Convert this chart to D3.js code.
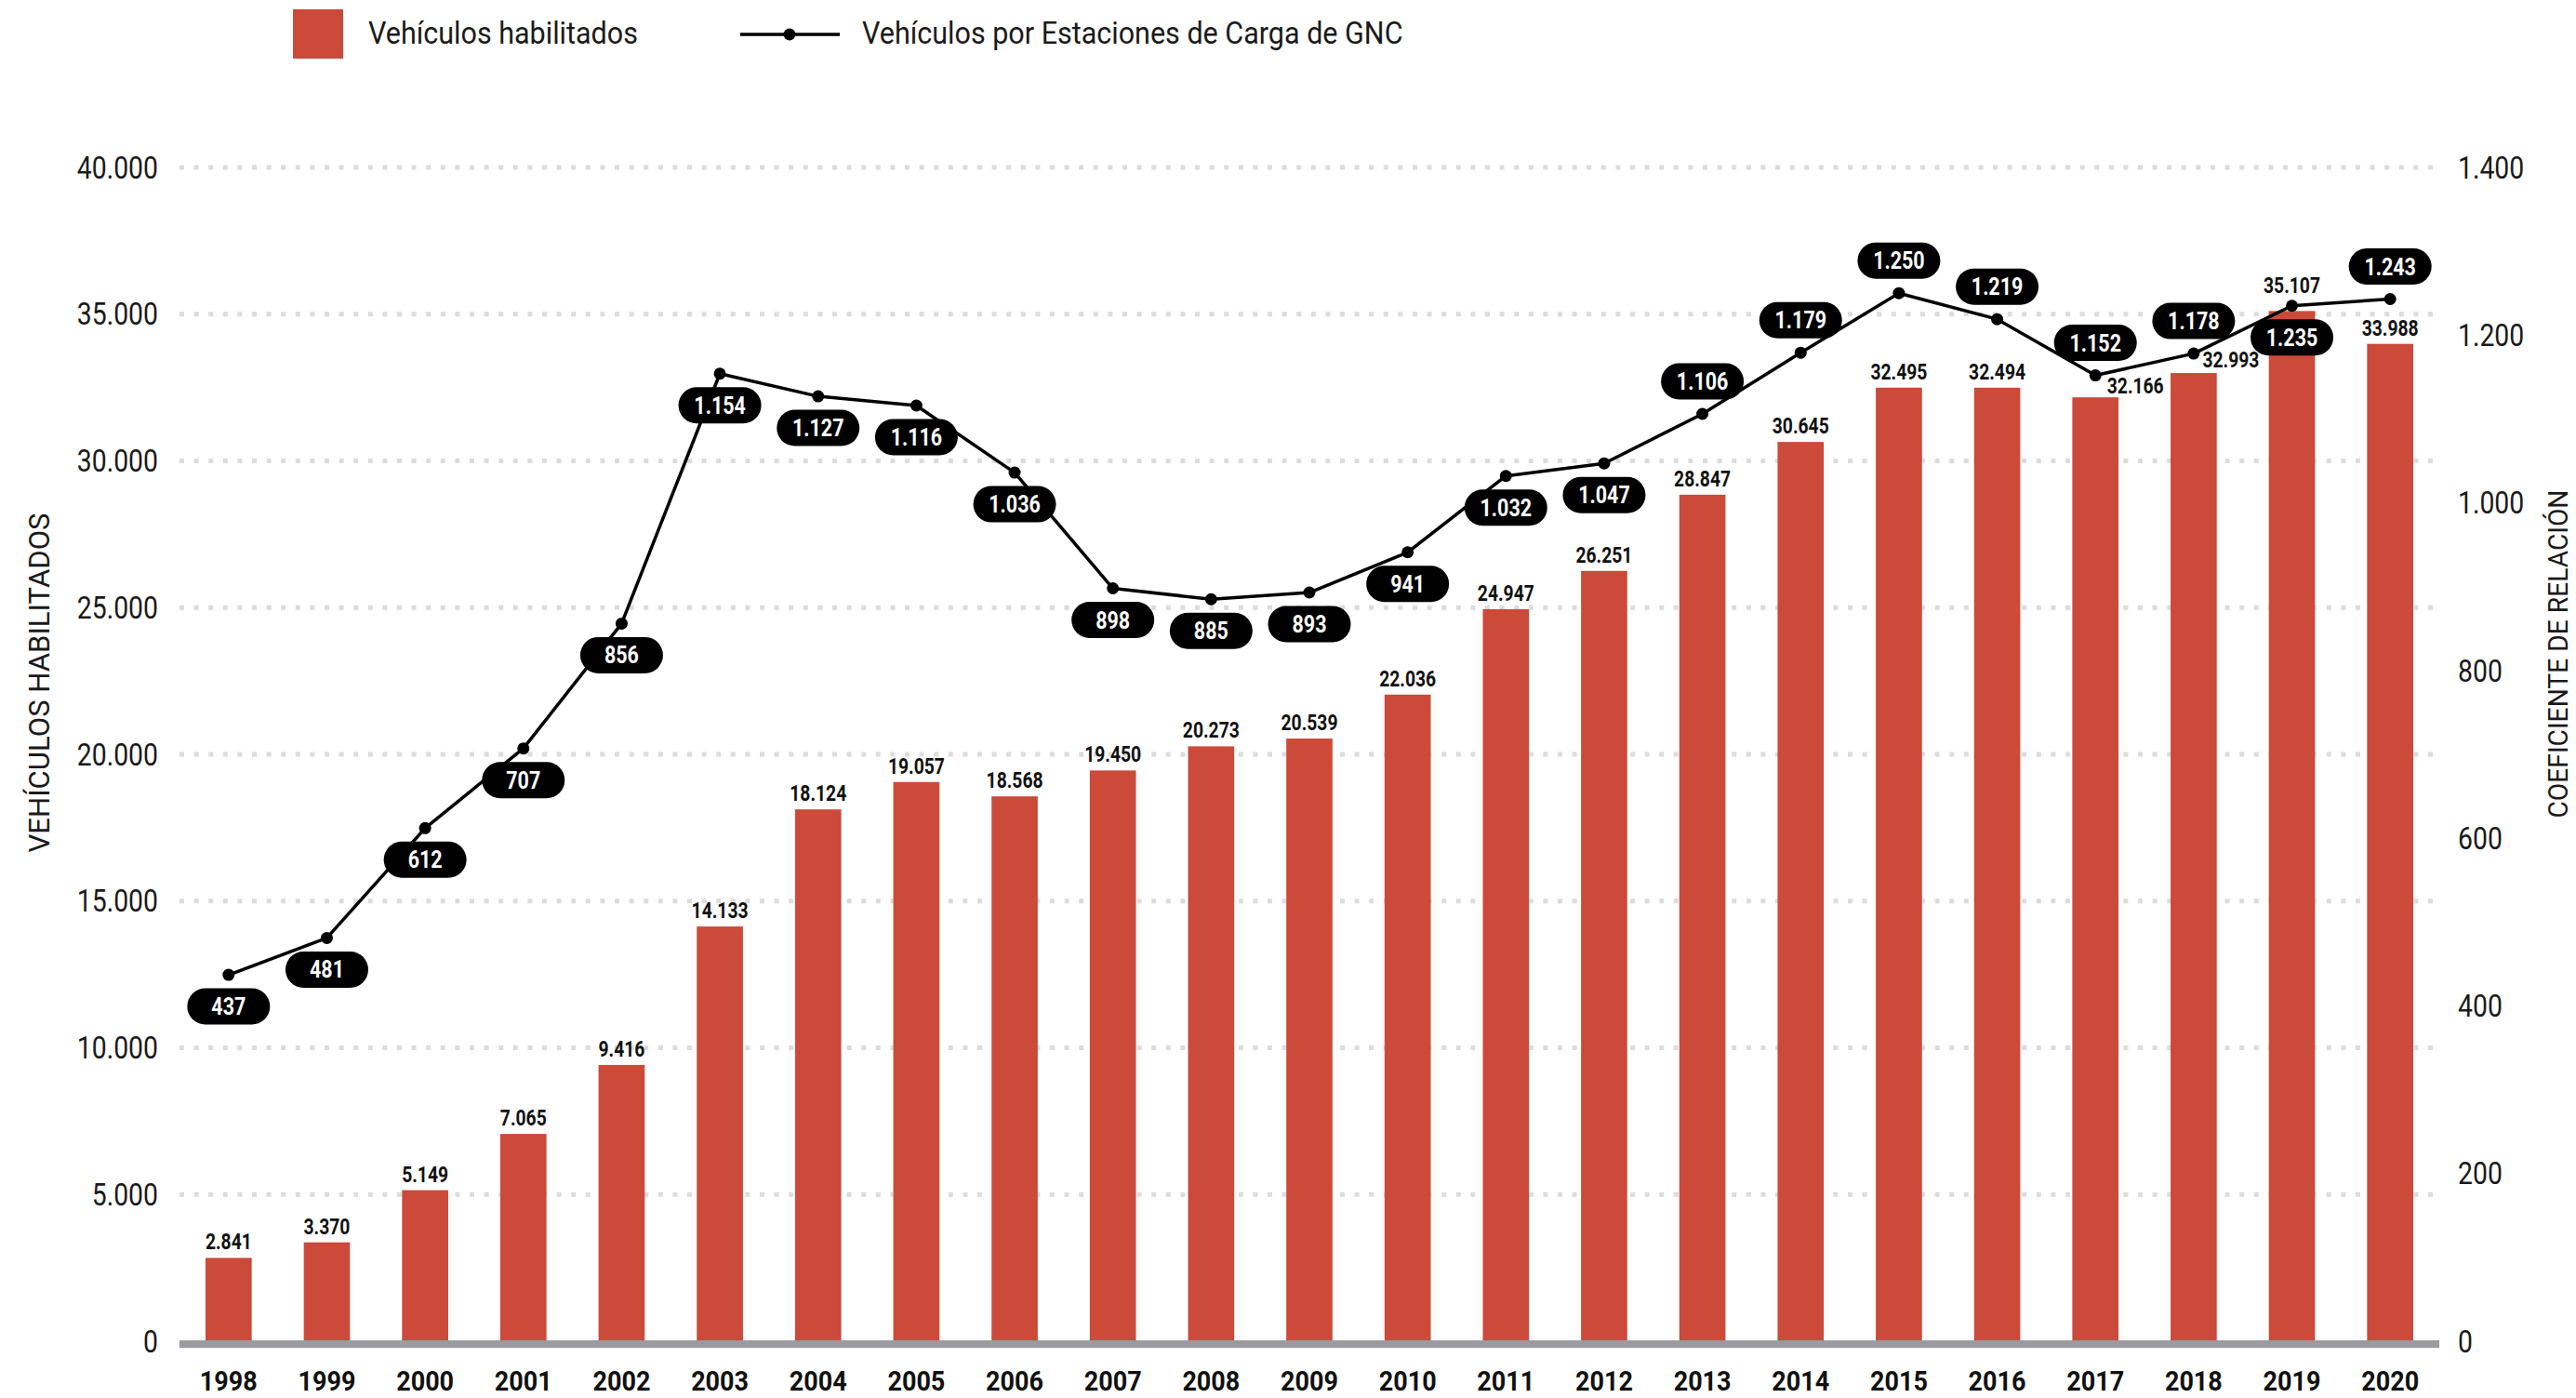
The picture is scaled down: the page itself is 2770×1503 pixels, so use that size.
<!DOCTYPE html>
<html>
<head>
<meta charset="utf-8">
<script src="https://cdn.jsdelivr.net/npm/d3@7"></script>
<style>
  html, body { margin: 0; padding: 0; background: #fff; }
  svg { display: block; font-family: Roboto, "Liberation Sans", sans-serif; }
</style>
</head>
<body>
<svg id="chart" width="2770" height="1503"></svg>
<script>
const years = [1998, 1999, 2000, 2001, 2002, 2003, 2004, 2005, 2006, 2007, 2008, 2009,
  2010, 2011, 2012, 2013, 2014, 2015, 2016, 2017, 2018, 2019, 2020]
const vehiculos = [2841, 3370, 5149, 7065, 9416, 14133, 18124, 19057, 18568, 19450, 20273, 20539,
  22036, 24947, 26251, 28847, 30645, 32495, 32494, 32166, 32993, 35107, 33988]
const coeficiente = [437, 481, 612, 707, 856, 1154, 1127, 1116, 1036, 898, 885, 893,
  941, 1032, 1047, 1106, 1179, 1250, 1219, 1152, 1178, 1235, 1243]
const leftTicks = [0, 5000, 10000, 15000, 20000, 25000, 30000, 35000, 40000]
const rightTicks = [0, 200, 400, 600, 800, 1000, 1200, 1400]

const barName = "Vehículos habilitados"
const lineName = "Vehículos por Estaciones de Carga de GNC"
const leftTitle = "VEHÍCULOS HABILITADOS"
const rightTitle = "COEFICIENTE DE RELACIÓN"

const RED = "#cb4a3a"
const fmt = d3.formatLocale({ decimal: ",", thousands: ".", grouping: [3] }).format(",")

// which pills sit above their point (the rest go below)
const pillAbove = new Set([2013, 2014, 2015, 2016, 2017, 2018, 2020])
// a few bar labels are nudged to keep clear of the line
const barNudge = { 2017: [43, 5], 2018: [40, 3], 2019: [0, -10] }

const svg = d3.select("#chart")

const x = d3.scaleBand()
  .domain(years)
  .range([193, 2623])
  .paddingInner(0.53)
  .paddingOuter(0.265)
const cx = d => x(d) + x.bandwidth() / 2
const yL = d3.scaleLinear().domain([0, 40000]).range([1442, 180])
const yR = d3.scaleLinear().domain([0, 1400]).range([1442, 180])

// condensed looking text: plain Roboto squeezed horizontally
const ctext = (g, px, py, txt, o) => g.append("text")
  .attr("transform", `translate(${px},${py}) scale(${o.sx || 0.86},1)`)
  .attr("text-anchor", o.anchor || "middle")
  .attr("font-size", o.size)
  .attr("font-weight", o.weight || 400)
  .attr("fill", o.fill || "#111")
  .text(txt)

// gridlines
svg.append("g")
  .selectAll("line")
  .data(leftTicks.filter(t => t > 0))
  .join("line")
  .attr("x1", 193).attr("x2", 2623)
  .attr("y1", d => yL(d)).attr("y2", d => yL(d))
  .attr("stroke", "#dcdcdc")
  .attr("stroke-width", 5)
  .attr("stroke-dasharray", "5 10.6")

// bars
svg.append("g")
  .selectAll("rect")
  .data(years)
  .join("rect")
  .attr("x", d => x(d))
  .attr("width", x.bandwidth())
  .attr("y", (d, i) => yL(vehiculos[i]))
  .attr("height", (d, i) => yL(0) - yL(vehiculos[i]))
  .attr("fill", RED)

// baseline
svg.append("rect")
  .attr("x", 193).attr("width", 2623 - 193)
  .attr("y", yL(0) - 1).attr("height", 8)
  .attr("fill", "#9a9a9f")

// bar value labels
const barLabels = svg.append("g")
years.forEach((yr, i) => {
  const [dx, dy] = barNudge[yr] || [0, 0]
  ctext(barLabels, cx(yr) + dx, yL(vehiculos[i]) - 9 + dy, fmt(vehiculos[i]),
    { size: 23, weight: 700, sx: 0.84 })
})

// left axis labels
const axL = svg.append("g")
leftTicks.forEach(t => ctext(axL, 170, yL(t) + 11.7, fmt(t), { size: 33, anchor: "end", fill: "#1a1a1a" }))

// right axis labels
const axR = svg.append("g")
rightTicks.forEach(t => ctext(axR, 2643, yR(t) + 11.7, fmt(t), { size: 33, anchor: "start", fill: "#1a1a1a" }))

// years
const axX = svg.append("g")
years.forEach(yr => ctext(axX, cx(yr), 1495, yr, { size: 30, weight: 700, sx: 0.9 }))

// axis titles
svg.append("text")
  .attr("transform", "translate(53,734) rotate(-90)")
  .attr("text-anchor", "middle")
  .attr("font-size", 31)
  .attr("fill", "#1a1a1a")
  .attr("textLength", 365)
  .attr("lengthAdjust", "spacingAndGlyphs")
  .text(leftTitle)
svg.append("text")
  .attr("transform", "translate(2761,703) rotate(-90)")
  .attr("text-anchor", "middle")
  .attr("font-size", 30)
  .attr("fill", "#1a1a1a")
  .attr("textLength", 353)
  .attr("lengthAdjust", "spacingAndGlyphs")
  .text(rightTitle)

// line
const line = d3.line()
  .x((d, i) => cx(years[i]))
  .y(d => yR(d))
svg.append("path")
  .datum(coeficiente)
  .attr("d", line)
  .attr("fill", "none")
  .attr("stroke", "#000")
  .attr("stroke-width", 3.5)
  .attr("stroke-linejoin", "round")

svg.append("g")
  .selectAll("circle")
  .data(coeficiente)
  .join("circle")
  .attr("cx", (d, i) => cx(years[i]))
  .attr("cy", d => yR(d))
  .attr("r", 6.5)
  .attr("fill", "#000")

// pills
const pills = svg.append("g")
years.forEach((yr, i) => {
  const px = cx(yr)
  const py = yR(coeficiente[i]) + (pillAbove.has(yr) ? -35 : 34)
  pills.append("rect")
    .attr("x", px - 44.5).attr("y", py - 19.5)
    .attr("width", 89).attr("height", 39)
    .attr("rx", 19.5)
    .attr("fill", "#000")
  ctext(pills, px, py + 9, fmt(coeficiente[i]), { size: 25, weight: 700, fill: "#fff", sx: 0.86 })
})

// legend
const legend = svg.append("g")
legend.append("rect")
  .attr("x", 315).attr("y", 10)
  .attr("width", 54).attr("height", 53)
  .attr("fill", RED)
ctext(legend, 396, 47, barName, { size: 33, anchor: "start", fill: "#1a1a1a", sx: 0.925 })
legend.append("line")
  .attr("x1", 796).attr("x2", 903)
  .attr("y1", 37).attr("y2", 37)
  .attr("stroke", "#000")
  .attr("stroke-width", 3.5)
legend.append("circle")
  .attr("cx", 849).attr("cy", 37).attr("r", 6.5)
  .attr("fill", "#000")
ctext(legend, 927, 47, lineName, { size: 33, anchor: "start", fill: "#1a1a1a", sx: 0.925 })
</script>
</body>
</html>
